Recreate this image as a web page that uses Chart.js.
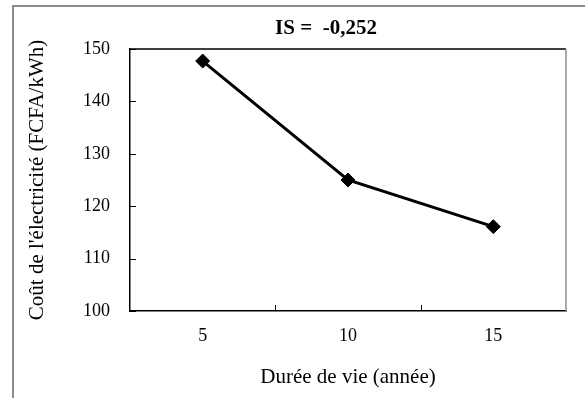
<!DOCTYPE html>
<html>
<head>
<meta charset="utf-8">
<script src="https://cdn.jsdelivr.net/npm/chart.js@4"></script>
<style>
  html, body { margin: 0; padding: 0; background: #fff; }
</style>
</head>
<body>
<canvas id="costChart" width="585" height="398"></canvas>
<script>
// Chart data
const lifetimes = ["5", "10", "15"];
const costValues = [147.7, 125.0, 116.1];
const yTicks = [100, 110, 120, 130, 140, 150];
const chartTitle = "IS =  -0,252";
const xTitle = "Durée de vie (année)";
const yTitle = "Coût de l'électricité (FCFA/kWh)";

const serif = "'Liberation Serif', 'Times New Roman', serif";

// Outer frame, title, plot box and inward tick marks
const framePlugin = {
  id: "frame",
  beforeDraw(chart) {
    const ctx = chart.ctx;
    ctx.save();
    ctx.fillStyle = "#fff";
    ctx.fillRect(0, 0, chart.width, chart.height);
    ctx.strokeStyle = "#8c8c8c";
    ctx.lineWidth = 2;
    ctx.beginPath();
    ctx.moveTo(13, chart.height);
    ctx.lineTo(13, 6);
    ctx.lineTo(chart.width, 6);
    ctx.stroke();
    ctx.restore();
  },
  afterDraw(chart) {
    const ctx = chart.ctx;
    const area = chart.chartArea;
    const x = chart.scales.x;
    const y = chart.scales.y;
    ctx.save();
    // top and right edges of the plot box
    ctx.lineWidth = 1.5;
    ctx.strokeStyle = "#000";
    ctx.beginPath();
    ctx.moveTo(area.left, area.top);
    ctx.lineTo(area.right, area.top);
    ctx.stroke();
    ctx.strokeStyle = "#8c8c8c";
    ctx.beginPath();
    ctx.moveTo(area.right, area.top);
    ctx.lineTo(area.right, area.bottom);
    ctx.stroke();
    // tick marks pointing into the plot
    ctx.strokeStyle = "#000";
    ctx.lineWidth = 1;
    ctx.beginPath();
    yTicks.forEach((v) => {
      const py = Math.round(y.getPixelForValue(v)) + 0.5;
      ctx.moveTo(area.left, py);
      ctx.lineTo(area.left + 6, py);
    });
    for (let i = 0; i < lifetimes.length - 1; i++) {
      const px = Math.round((x.getPixelForValue(i) + x.getPixelForValue(i + 1)) / 2) + 0.5;
      ctx.moveTo(px, area.bottom);
      ctx.lineTo(px, area.bottom - 6);
    }
    ctx.stroke();
    // title
    ctx.fillStyle = "#000";
    ctx.font = "bold 21px " + serif;
    ctx.textAlign = "center";
    ctx.textBaseline = "middle";
    ctx.fillText(chartTitle, 326, 29);
    ctx.restore();
  },
};

const ctx = document.getElementById("costChart").getContext("2d");
new Chart(ctx, {
  type: "line",
  data: {
    labels: lifetimes,
    datasets: [
      {
        data: costValues,
        borderColor: "#000",
        backgroundColor: "#000",
        borderWidth: 3,
        pointStyle: "rectRot",
        pointRadius: 7,
        pointBorderWidth: 1,
        fill: false,
        tension: 0,
      },
    ],
  },
  options: {
    responsive: false,
    animation: false,
    layout: { padding: { top: 49, right: 19, left: 0, bottom: 0 } },
    plugins: {
      legend: { display: false },
      tooltip: { enabled: false },
    },
    scales: {
      x: {
        type: "category",
        offset: true,
        grid: { display: false, drawTicks: false },
        border: { display: true, color: "#000", width: 1.5 },
        ticks: {
          color: "#000",
          font: { family: serif, size: 18 },
          padding: 14,
          maxRotation: 0,
        },
        title: {
          display: true,
          text: xTitle,
          color: "#000",
          font: { family: serif, size: 21 },
          padding: { top: 0, bottom: 8 },
        },
        afterFit: (s) => { s.height = 87; },
      },
      y: {
        min: 100,
        max: 150,
        afterBuildTicks: (s) => { s.ticks = yTicks.map((v) => ({ value: v })); },
        grid: { display: false, drawTicks: false },
        border: { display: true, color: "#000", width: 1.5 },
        ticks: {
          color: "#000",
          font: { family: serif, size: 18 },
          padding: 20,
        },
        title: {
          display: true,
          text: yTitle,
          color: "#000",
          font: { family: serif, size: 21 },
          padding: { top: 25, bottom: 0 },
        },
        afterFit: (s) => { s.width = 130; },
      },
    },
  },
  plugins: [framePlugin],
});
</script>
</body>
</html>
